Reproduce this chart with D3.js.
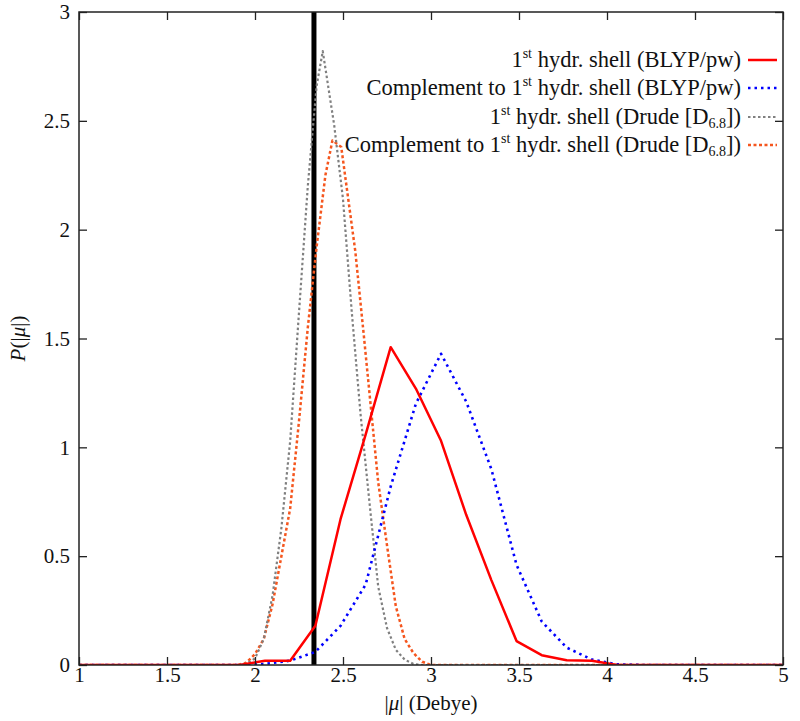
<!DOCTYPE html>
<html><head><meta charset="utf-8">
<script src="https://cdn.jsdelivr.net/npm/d3@7"></script>
<style>
body{margin:0;background:#fff;}
svg{display:block;}
text{font-family:"Liberation Serif","DejaVu Serif",serif;fill:#111;}
</style></head>
<body><svg id="chart" width="800" height="721"></svg>
<script>
// ---- data ----
const xTicks = [1, 1.5, 2, 2.5, 3, 3.5, 4, 4.5, 5];
const yTicks = [0, 0.5, 1, 1.5, 2, 2.5, 3];
const refLineX = 2.335;

const blypShellX = [1, 1.914, 2.057, 2.2, 2.343, 2.486, 2.629, 2.771, 2.914, 3.057, 3.2, 3.343, 3.486, 3.629, 3.771, 3.914, 4.057, 5];
const blypShellY = [0, 0, 0.02, 0.02, 0.18, 0.67, 1.06, 1.46, 1.27, 1.03, 0.69, 0.39, 0.11, 0.045, 0.022, 0.02, 0, 0];

const blypCompX = [1, 1.914, 2.057, 2.2, 2.343, 2.486, 2.629, 2.771, 2.914, 3.057, 3.2, 3.343, 3.486, 3.629, 3.771, 3.914, 4.057, 4.2, 5];
const blypCompY = [0, 0, 0.005, 0.02, 0.06, 0.18, 0.37, 0.82, 1.2, 1.43, 1.21, 0.9, 0.46, 0.2, 0.08, 0.025, 0.003, 0, 0];

const drudeShellX = [1, 1.9, 1.95, 2.0, 2.05, 2.1, 2.15, 2.2, 2.25, 2.3, 2.35, 2.385, 2.45, 2.5, 2.55, 2.6, 2.65, 2.7, 2.75, 2.8, 2.85, 2.9, 2.95, 5];
const drudeShellY = [0, 0, 0.005, 0.03, 0.12, 0.32, 0.63, 1.03, 1.62, 2.2, 2.66, 2.82, 2.48, 2.14, 1.62, 1.15, 0.75, 0.36, 0.17, 0.07, 0.025, 0.005, 0, 0];

const drudeCompX = [1, 1.9, 1.95, 2.0, 2.05, 2.1, 2.15, 2.2, 2.25, 2.3, 2.35, 2.4, 2.44, 2.49, 2.52, 2.57, 2.62, 2.66, 2.7, 2.75, 2.8, 2.85, 2.9, 2.95, 3.0, 5];
const drudeCompY = [0, 0, 0.01, 0.05, 0.12, 0.28, 0.5, 0.72, 1.12, 1.55, 1.92, 2.25, 2.41, 2.38, 2.2, 1.9, 1.5, 1.17, 0.84, 0.55, 0.27, 0.12, 0.055, 0.015, 0, 0];

const series = [
  {xs: blypShellX, ys: blypShellY, color: "#ff0000", width: 2.5, dash: null},
  {xs: blypCompX, ys: blypCompY, color: "#0000ff", width: 2.6, dash: "2.5,4"},
  {xs: drudeShellX, ys: drudeShellY, color: "#808080", width: 2.2, dash: "2.5,2.5"},
  {xs: drudeCompX, ys: drudeCompY, color: "#f5561e", width: 2.5, dash: "3,2.5"}
];

// ---- layout ----
const svg = d3.select("#chart");
const L = 79, R = 783, T = 12, B = 665;
const x = d3.scaleLinear().domain([1, 5]).range([L, R]);
const y = d3.scaleLinear().domain([0, 3]).range([B, T]);
const tickLen = 8;

const g = svg.append("g");

svg.append("defs").append("clipPath").attr("id", "clip")
  .append("rect").attr("x", L).attr("y", T).attr("width", R - L).attr("height", B - T);

const plot = g.append("g").attr("clip-path", "url(#clip)");

plot.append("line")
  .attr("x1", x(refLineX)).attr("x2", x(refLineX))
  .attr("y1", y(3)).attr("y2", y(0))
  .attr("stroke", "#000").attr("stroke-width", 5);

const lineGen = d3.line().x(d => x(d[0])).y(d => y(d[1]));
[series[3], series[2], series[1], series[0]].forEach(s => {
  const pts = s.xs.map((v, i) => [v, s.ys[i]]);
  plot.append("path").datum(pts)
    .attr("d", lineGen)
    .attr("fill", "none")
    .attr("stroke", s.color)
    .attr("stroke-width", s.width)
    .attr("stroke-dasharray", s.dash)
    .attr("stroke-linejoin", "round");
});

const fs = 21;
const axB = d3.axisBottom(x).tickValues(xTicks).tickSize(-tickLen).tickPadding(2).tickFormat(d3.format("~g"));
const axT = d3.axisTop(x).tickValues(xTicks).tickSize(-tickLen).tickFormat("");
const axL = d3.axisLeft(y).tickValues(yTicks).tickSize(-tickLen).tickPadding(9).tickFormat(d3.format("~g"));
const axR = d3.axisRight(y).tickValues(yTicks).tickSize(-tickLen).tickFormat("");

function style(sel){
  sel.select(".domain").remove();
  sel.selectAll(".tick line").attr("stroke", "#222").attr("stroke-width", 1.3);
  sel.selectAll(".tick text").attr("font-size", fs).attr("font-family", "Liberation Serif, serif").attr("fill", "#111");
}
g.append("g").attr("transform", `translate(0,${B})`).call(axB).call(style);
g.append("g").attr("transform", `translate(0,${T})`).call(axT).call(style);
g.append("g").attr("transform", `translate(${L},0)`).call(axL).call(style);
g.append("g").attr("transform", `translate(${R},0)`).call(axR).call(style);

g.append("rect").attr("x", L).attr("y", T).attr("width", R - L).attr("height", B - T)
  .attr("fill", "none").attr("stroke", "#222").attr("stroke-width", 1.5);

const xl = g.append("text").attr("x", x(3)).attr("y", 710).attr("text-anchor", "middle").attr("font-size", fs);
xl.append("tspan").text("|");
xl.append("tspan").attr("font-style", "italic").text("μ");
xl.append("tspan").text("| (Debye)");

const yl = g.append("text").attr("transform", `translate(25,${(T + B) / 2}) rotate(-90)`)
  .attr("text-anchor", "middle").attr("font-size", fs);
yl.append("tspan").attr("font-style", "italic").text("P");
yl.append("tspan").text("(|");
yl.append("tspan").attr("font-style", "italic").text("μ");
yl.append("tspan").text("|)");

// legend
const lfs = 22.5;
const legRows = [60, 88, 117, 145];
const legX = 741, lineX1 = 748, lineX2 = 777;
const legendParts = [
  {pre: "", kind: "BLYP"},
  {pre: "Complement to ", kind: "BLYP"},
  {pre: "", kind: "DR"},
  {pre: "Complement to ", kind: "DR"}
];
legendParts.forEach((p, i) => {
  const yy = legRows[i];
  const t = g.append("text").attr("x", legX).attr("y", yy + 7).attr("text-anchor", "end").attr("font-size", lfs);
  t.append("tspan").text(p.pre + "1");
  t.append("tspan").attr("font-size", 14).attr("dy", -9).text("st");
  if (p.kind === "BLYP") {
    t.append("tspan").attr("dy", 9).text(" hydr. shell (BLYP/pw)");
  } else {
    t.append("tspan").attr("dy", 9).text(" hydr. shell (Drude [D");
    t.append("tspan").attr("font-size", 14).attr("dy", 4).text("6.8");
    t.append("tspan").attr("dy", -4).text("])");
  }
  const s = series[i];
  g.append("line").attr("x1", lineX1).attr("x2", lineX2).attr("y1", yy).attr("y2", yy)
    .attr("stroke", s.color).attr("stroke-width", s.width).attr("stroke-dasharray", s.dash);
});
</script></body></html>
